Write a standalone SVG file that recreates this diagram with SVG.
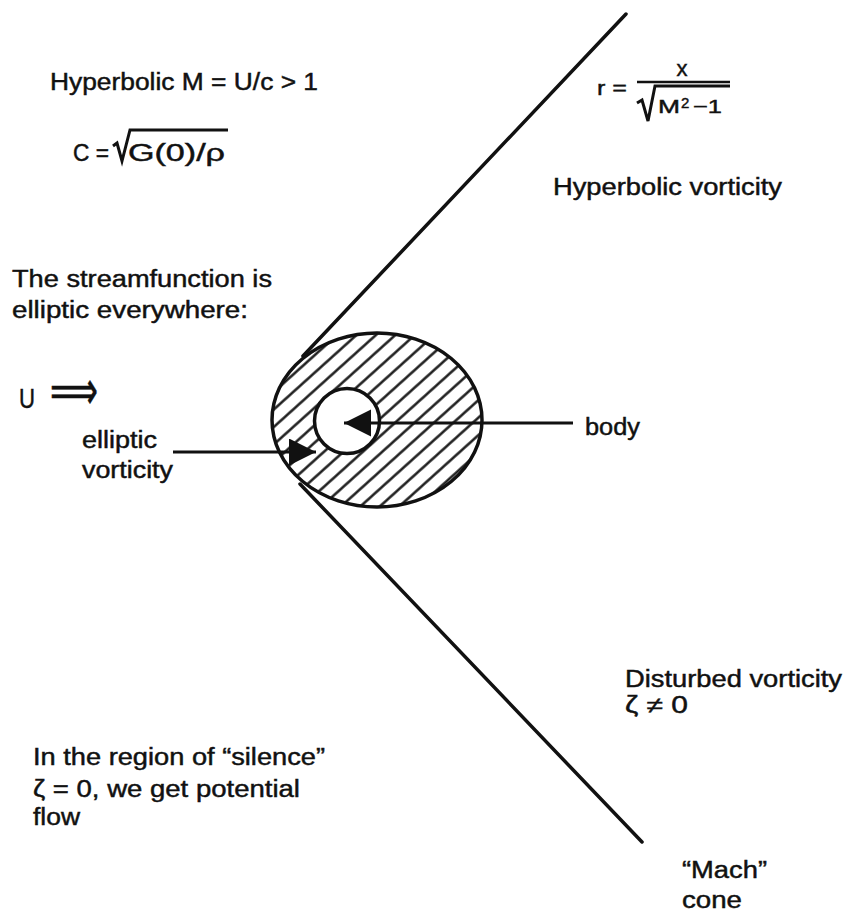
<svg xmlns="http://www.w3.org/2000/svg" width="848" height="913" viewBox="0 0 848 913">
<style>
  text { font-family: "Liberation Sans", Arial, Helvetica, sans-serif; font-size: 23px; fill: #111; stroke: #111; stroke-width: 0.45; }
  .ln { stroke: #111; stroke-width: 3.5; fill: none; stroke-linecap: round; stroke-linejoin: round; }
  .thin { stroke: #111; stroke-width: 3; fill: none; }
  .sym { font-family: "DejaVu Sans", sans-serif; stroke-width: 0.6; }
</style>
<defs>
  <pattern id="hatch" patternUnits="userSpaceOnUse" width="13" height="13" patternTransform="rotate(-42)">
    <rect width="13" height="13" fill="#fff"/>
    <line x1="0" y1="6.5" x2="13" y2="6.5" stroke="#111" stroke-width="2.4"/>
  </pattern>
  <marker id="tri" markerUnits="userSpaceOnUse" markerWidth="30" markerHeight="30" refX="27" refY="13.5" orient="auto">
    <path d="M0,0 L27,13.5 L0,27 Z" fill="#111"/>
  </marker>
</defs>
<rect width="848" height="913" fill="#fff"/>

<g id="mach-cone">
  <line class="ln" x1="626" y1="14" x2="303" y2="356"/>
  <line class="ln" x1="300" y1="484" x2="642" y2="842"/>
</g>

<g id="vorticity-region">
  <ellipse cx="377" cy="420" rx="105" ry="87" fill="url(#hatch)" stroke="#111" stroke-width="3.5"/>
</g>

<g id="body">
  <circle cx="347" cy="421" r="32.5" fill="#fff" stroke="#111" stroke-width="3.5"/>
</g>

<g id="connectors">
  <line class="thin" x1="573" y1="423" x2="344" y2="423" marker-end="url(#tri)"/>
  <line class="thin" x1="173" y1="452" x2="316" y2="452" marker-end="url(#tri)"/>
</g>

<g id="label-hyperbolic-M">
  <text x="50" y="90" textLength="268" lengthAdjust="spacingAndGlyphs">Hyperbolic M = U/c &gt; 1</text>
</g>

<g id="label-c">
  <text x="73" y="161" textLength="36" lengthAdjust="spacingAndGlyphs">C =</text>
  <path d="M113,146 L117,143 L122,161 L130,130 L228,130" class="thin" stroke-linejoin="miter"/>
  <text x="128" y="161" textLength="97" lengthAdjust="spacingAndGlyphs">G(0)/ρ</text>
</g>

<g id="label-r">
  <text x="597" y="95" style="font-size:21px" textLength="30" lengthAdjust="spacingAndGlyphs">r =</text>
  <text x="682" y="76" style="font-size:22px" text-anchor="middle">x</text>
  <line x1="637" y1="82" x2="730" y2="82" stroke="#111" stroke-width="2.5"/>
  <path d="M637,103 L642,100 L648,121 L655,86 L730,86" class="thin" stroke-width="2.5" stroke-linejoin="miter"/>
  <text x="658" y="113" style="font-size:19px" textLength="22" lengthAdjust="spacingAndGlyphs">M</text>
  <text x="681" y="108" style="font-size:15px">2</text>
  <text x="693" y="113" style="font-size:19px" textLength="29" lengthAdjust="spacingAndGlyphs">−1</text>
</g>

<g id="label-hyperbolic-vorticity">
  <text x="553" y="195" textLength="229" lengthAdjust="spacingAndGlyphs">Hyperbolic vorticity</text>
</g>

<g id="label-streamfunction">
  <text x="12" y="287" textLength="260" lengthAdjust="spacingAndGlyphs">The streamfunction is</text>
  <text x="12" y="318" textLength="236" lengthAdjust="spacingAndGlyphs">elliptic everywhere:</text>
</g>

<g id="label-U">
  <text x="19" y="408" style="font-size:27px" textLength="16" lengthAdjust="spacingAndGlyphs">U</text>
  <text class="sym" x="50" y="409" style="font-size:54px" textLength="48" lengthAdjust="spacingAndGlyphs">⟹</text>
</g>

<g id="label-elliptic-vorticity">
  <text x="82" y="448" textLength="75" lengthAdjust="spacingAndGlyphs">elliptic</text>
  <text x="82" y="478" textLength="91" lengthAdjust="spacingAndGlyphs">vorticity</text>
</g>

<g id="label-body">
  <text x="585" y="435" textLength="55" lengthAdjust="spacingAndGlyphs">body</text>
</g>

<g id="label-disturbed">
  <text x="625" y="687" textLength="217" lengthAdjust="spacingAndGlyphs">Disturbed vorticity</text>
  <text x="625" y="713" textLength="63" lengthAdjust="spacingAndGlyphs">ζ ≠ 0</text>
</g>

<g id="label-silence">
  <text x="33" y="765" textLength="292" lengthAdjust="spacingAndGlyphs">In the region of “silence”</text>
  <text x="33" y="797" textLength="267" lengthAdjust="spacingAndGlyphs">ζ = 0, we get potential</text>
  <text x="33" y="825" textLength="47" lengthAdjust="spacingAndGlyphs">flow</text>
</g>

<g id="label-mach">
  <text x="682" y="878" textLength="85" lengthAdjust="spacingAndGlyphs">“Mach”</text>
  <text x="682" y="908" textLength="60" lengthAdjust="spacingAndGlyphs">cone</text>
</g>
</svg>
